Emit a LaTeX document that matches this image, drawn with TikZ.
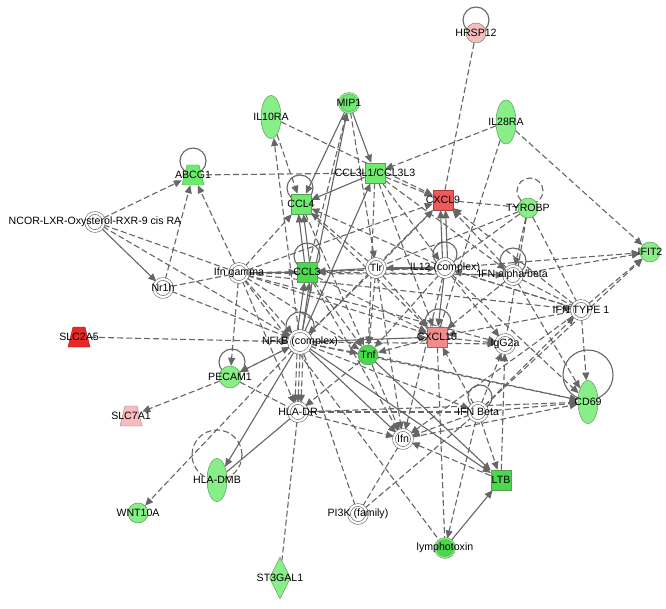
\documentclass[tikz,border=0pt]{standalone}
\usepackage{fontspec}
\newfontfamily\lf{Liberation Sans}
\usetikzlibrary{shapes.geometric,arrows.meta}
\pgfdeclarelayer{bg}
\pgfdeclarelayer{edges}
\pgfsetlayers{bg,edges,main}
\definecolor{gL}{HTML}{88EE88}
\definecolor{gM}{HTML}{6EEA6E}
\definecolor{gD}{HTML}{4CD84C}
\definecolor{gbd}{HTML}{5C9A5C}
\definecolor{rD}{HTML}{E82828}
\definecolor{rM}{HTML}{EE5A5A}
\definecolor{rL}{HTML}{F28C8C}
\definecolor{pk}{HTML}{F8BCBC}
\definecolor{eg}{HTML}{666666}
\tikzset{
 lbl/.style={font=\lf\fontsize{10.6}{12}\selectfont, inner sep=0pt, text=black},
 gc/.style={circle, minimum size=20pt, inner sep=0pt, fill=#1, draw=gbd, line width=0.5pt},
 gdc/.style={circle, minimum size=19pt, inner sep=0pt, fill=#1, draw=gbd, double=gL, double distance=1.4pt, line width=0.5pt},
 dc/.style={circle, minimum size=18pt, inner sep=0pt, fill=white, draw=eg, double=white, double distance=2.2pt, line width=0.6pt},
 sq/.style={rectangle, minimum size=20pt, inner sep=0pt, fill=#1, draw=gbd, line width=0.5pt},
 el/.style={ellipse, minimum width=20pt, minimum height=43pt, inner sep=0pt, fill=#1, draw=gbd, line width=0.5pt},
 tzbox/.style={rectangle, minimum width=22pt, minimum height=20pt, inner sep=0pt},
 dm/.style={diamond, minimum width=21pt, minimum height=42pt, inner sep=0pt, fill=#1, draw=gbd, line width=0.5pt},
 ar/.style={-{Triangle[length=8pt,width=7pt]}},
 de/.style={draw=eg, line width=1.1pt, dash pattern=on 6pt off 3pt},
 se/.style={draw=eg, line width=1.1pt},
}
\newcommand\mytrap[2]{\filldraw[fill=#2, draw=#2!70!black, line width=0.4pt]
  ([shift={(-11,10)}]#1.center) -- ([shift={(11,10)}]#1.center) --
  ([shift={(6,-10)}]#1.center) -- ([shift={(-6,-10)}]#1.center) -- cycle;}
\begin{document}
\begin{tikzpicture}[x=1pt,y=-1pt]
\begin{pgfonlayer}{bg}
\fill[white] (0,0) rectangle (666,609);
\end{pgfonlayer}
\useasboundingbox (0,0) rectangle (666,609);
% nodes
\node[gc=pk] (hrsp) at (476,33) {};
\node[el=gL] (il10ra) at (271,117) {};
\node[gdc=gM] (mip1) at (349,103) {};
\node[el=gL, minimum height=44pt] (il28ra) at (506,122) {};
\node[tzbox] (abcg1) at (193,175) {};
\node[sq=gM] (ccl3l1) at (375,173) {};
\node[sq=rM, draw=rM!70!black] (cxcl9) at (443,200) {};
\node[sq=gM] (ccl4) at (301,204) {};
\node[gc=gL] (tyrobp) at (528,208) {};
\node[dc] (ncor) at (95,222) {};
\node[gc=gL] (ifit2) at (650,252) {};
\node[dc] (ifng) at (239,273) {};
\node[sq=gD] (ccl3) at (307,272) {};
\node[dc] (tlr) at (376,268) {};
\node[dc] (il12) at (445,268) {};
\node[dc] (ifnab) at (513,275) {};
\node[dc] (nr1h) at (163,288) {};
\node[dc] (ifnt1) at (581,310) {};
\node[tzbox] (slc2a5) at (79,337) {};
\node[dc, minimum size=22pt] (nfkb) at (300,342) {};
\node[sq=rL, draw=rL!70!black] (cxcl10) at (437,337) {};
\node[dc] (igg2a) at (505,344) {};
\node[gc=gD] (tnf) at (368,355) {};
\node[el=gL] (cd69) at (588,402) {};
\node[gc=gL, minimum size=22pt] (pecam1) at (230,377) {};
\node[tzbox] (slc7a1) at (131,416) {};
\node[dc] (hladr) at (298,412) {};
\node[dc] (ifnb) at (478,412) {};
\node[dc] (ifn) at (403,439) {};
\node[el=gL] (hladmb) at (217,480) {};
\node[sq=gD] (ltb) at (501,480) {};
\node[gc=gL] (wnt10a) at (138,513) {};
\node[dc] (pi3k) at (358,514) {};
\node[gdc=gD] (lympho) at (445,548) {};
\node[dm=gL] (st3gal1) at (280,578) {};
\mytrap{abcg1}{gM}
\mytrap{slc2a5}{rD}
\mytrap{slc7a1}{pk}
% labels
\foreach \n/\t in {hrsp/HRSP12, il10ra/IL10RA, mip1/MIP1, il28ra/IL28RA, abcg1/ABCG1,
  ccl3l1/CCL3L1\slash CCL3L3, cxcl9/CXCL9, ccl4/CCL4, tyrobp/TYROBP,
  ncor/NCOR-LXR-Oxysterol-RXR-9 cis RA, ifit2/IFIT2, ifng/Ifn gamma, ccl3/CCL3, tlr/Tlr,
  il12/IL12 (complex), ifnab/IFN alpha\slash beta, nr1h/Nr1h, ifnt1/IFN TYPE 1, slc2a5/SLC2A5,
  nfkb/NFkB (complex), cxcl10/CXCL10, igg2a/IgG2a, tnf/Tnf, cd69/CD69, pecam1/PECAM1,
  slc7a1/SLC7A1, hladr/HLA-DR, ifnb/IFN Beta, ifn/Ifn, hladmb/HLA-DMB, ltb/LTB,
  wnt10a/WNT10A, pi3k/PI3K (family), lympho/lymphotoxin, st3gal1/ST3GAL1}
  \node[lbl] at (\n.center) {\t};
\begin{pgfonlayer}{edges}
% self loops
\foreach \x/\y/\r in {476/20/13, 193/161/13, 300/188/13, 307/256/13, 300/326/14, 445/254/12,
  438/322/13, 513/261/13, 232/362/13, 480/397/12, 588/375/25}
  \draw[se] (\x,\y) circle[radius=\r pt];
\draw[de] (530,191) circle[radius=13pt];
\draw[de] (217,455) circle[radius=25pt];
% dashed arrows
\foreach \a/\b in {ncor/abcg1, nr1h/abcg1, ifng/abcg1, ncor/nfkb, nr1h/nfkb, slc2a5/nfkb,
  il28ra/ccl3l1, il28ra/ifit2, il10ra/ccl4, nfkb/il10ra, il10ra/cxcl9, ccl3l1/cxcl9,
  ccl3/mip1, ccl3l1/tnf, ccl3l1/cxcl10, ccl3l1/il12, tlr/ccl4, il12/ccl4, ifng/ccl4,
  ifng/cxcl9, tlr/cxcl9, ifnab/cxcl9, ifnt1/cxcl9, nfkb/cxcl9, tyrobp/ifnab,
  ifnab/ifit2, il12/ifit2, ifnt1/ifit2, ifnb/ifit2, ifnab/cxcl10, ifnab/cd69, ifnab/ccl3,
  il12/ccl3, il12/igg2a, il12/tnf, il12/ifn, il12/cd69, tlr/cxcl10, tlr/tnf, tlr/nfkb,
  tlr/ifn, ifng/cxcl10, ifng/il12, ifng/nfkb, ifng/pecam1, ifng/hladr, ifng/tnf,
  cxcl10/igg2a, cxcl10/tnf, ifnt1/cxcl10, ifnt1/cd69, ifnt1/il12, ifnt1/ifn,
  ifnb/cxcl10, ifnb/igg2a, ifnb/ifnt1, ifnb/cd69, ifnb/ifn, ifnb/ltb, ifnb/lympho,
  nfkb/pecam1, nfkb/tnf, nfkb/cd69, nfkb/wnt10a, nfkb/igg2a, nfkb/ifnb, pecam1/slc7a1,
  hladr/ifn, tnf/hladr, tnf/ifn, tnf/cd69, ltb/ifn, ltb/igg2a, ifn/cd69, hladr/cd69,
  ccl3/tnf, ccl3/cxcl10, ccl3/ifn, ifng/ifnab, ifng/ifnt1, ccl4/cxcl10, ccl4/tnf,
  mip1/tlr, ifng/igg2a, ccl3l1/ifnab}
  \draw[de,ar] (\a) -- (\b);
% dashed plain
\foreach \a/\b in {ifng/nr1h, il28ra/cxcl10, hrsp/cxcl9, ccl3l1/abcg1, tyrobp/cxcl9,
  tyrobp/il12, tyrobp/ifnt1, tyrobp/igg2a, tyrobp/tlr, ifnab/ifnt1, il12/ifnt1,
  cxcl10/lympho, ifnb/hladr, pecam1/hladr, pi3k/ifn, pi3k/ifnb, pi3k/nfkb,
  hladr/st3gal1, ifng/lympho, ncor/ifng}
  \draw[de] (\a) -- (\b);
% solid arrows
\foreach \a/\b in {ncor/nr1h, mip1/ccl3l1, mip1/ccl4, nfkb/mip1, ccl3l1/ccl4,
  nfkb/ccl3l1, ifng/ccl3, tlr/ccl3, il12/tlr, il12/cxcl10, nfkb/cxcl10,
  nfkb/hladmb, nfkb/ifn, nfkb/ltb, tnf/ltb, lympho/ltb, pecam1/nfkb}
  \draw[se,ar] (\a) -- (\b);
\draw[se] (hladr) -- (hladmb);
% parallel lines
\foreach \k in {-2.5,2.5} {
  \draw[se,ar] ([xshift=\k pt]il12.north) -- ([xshift=\k pt]cxcl9.south);
  \draw[se,ar] ([xshift=\k pt]nfkb.north) -- ([xshift=\k pt]ccl3.south);
  \draw[se,ar] ([xshift=\k pt]ccl3.north) -- ([xshift=\k pt]ccl4.south);
}
\foreach \k in {-3,0,3}
  \draw[de,ar] ([xshift=\k pt]nfkb.south) -- ([xshift=\k pt]hladr.north);
\end{pgfonlayer}
\end{tikzpicture}
\end{document}
